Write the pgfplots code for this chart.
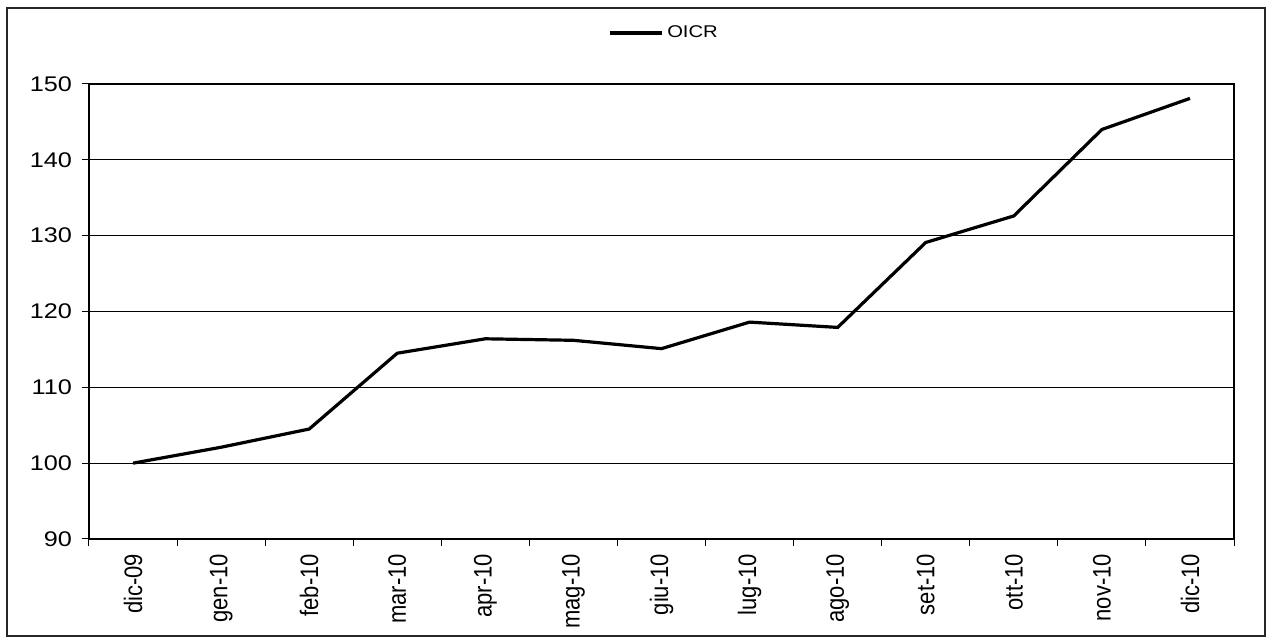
\documentclass[border=0pt]{standalone}
\usepackage{fontspec}
\setmainfont{Liberation Sans}
\usepackage{graphicx}
\usepackage{pgfplots}
\pgfplotsset{compat=1.18}

% the original is stretched sideways a little
\newcommand\hx[1]{\scalebox{1.19}[1]{#1}}
\newcommand\vx[1]{\scalebox{1}[1.15]{#1}}

\begin{document}
\begin{tikzpicture}
\begin{axis}[
  scale only axis,
  width=572.5pt, height=227.5pt,
  xmin=-0.5, xmax=12.5,
  ymin=90, ymax=150,
  ytick={90,100,...,150},
  xtick={-0.5,0.5,...,12.5},
  xticklabels={},
  extra x ticks={0,...,12},
  extra x tick labels={\vx{dic-09},\vx{gen-10},\vx{feb-10},\vx{mar-10},\vx{apr-10},\vx{mag-10},\vx{giu-10},\vx{lug-10},\vx{ago-10},\vx{set-10},\vx{ott-10},\vx{nov-10},\vx{dic-10}},
  extra x tick style={major tick length=0pt, grid=none},
  xtick pos=bottom, ytick pos=left,
  tick align=outside,
  major tick length=3.5pt,
  ymajorgrids, grid style={black, line width=0.5pt},
  axis line style={black, line width=0.8pt},
  tick style={black, line width=0.5pt},
  /pgf/number format/assume math mode=true,
  yticklabel={\hx{\pgfmathprintnumber{\tick}}},
  yticklabel style={font=\fontsize{10.6}{12}\selectfont, xshift=-1.5pt},
  xticklabel style={rotate=90, anchor=east, font=\fontsize{11}{12}\selectfont, xshift=-4pt},
  legend style={at={(0.503,1.112)}, anchor=center, draw=none, fill=none,
    font=\fontsize{8.5}{10}\selectfont},
  legend image code/.code={\draw[#1] (0pt,0pt) -- (26pt,0pt);},
]
\coordinate (ll) at (rel axis cs:0,0);
\addplot[black, line width=1.6pt] coordinates {
  (0,100.0) (1,102.1) (2,104.5) (3,114.5) (4,116.4) (5,116.2) (6,115.1)
  (7,118.6) (8,117.9) (9,129.1) (10,132.6) (11,144.0) (12,148.1)
};
\addlegendentry{\hx{OICR}}
\end{axis}
\draw[line width=1pt, black!85] ([shift={(-41pt,-48.5pt)}]ll) rectangle ([shift={(588pt,265.5pt)}]ll);
\pgfresetboundingbox
\path[use as bounding box] ([shift={(-44.5pt,-51pt)}]ll) rectangle ([shift={(589.5pt,269.5pt)}]ll);
\end{tikzpicture}
\end{document}
